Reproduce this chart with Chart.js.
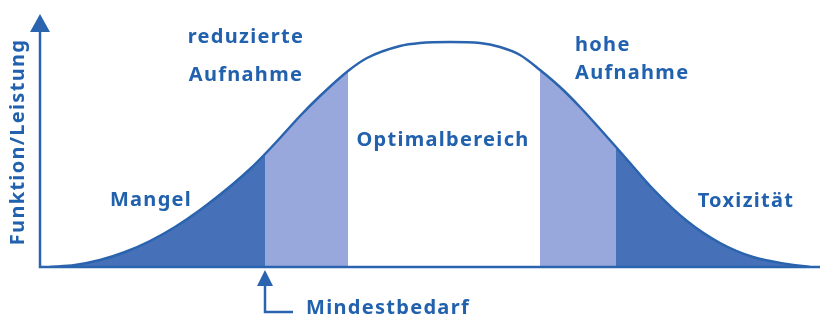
<!DOCTYPE html>
<html>
<head>
<meta charset="utf-8">
<script src="https://cdn.jsdelivr.net/npm/chart.js@4.4.0/dist/chart.umd.min.js"></script>
<style>
  html, body { margin: 0; padding: 0; background: #fff; }
  #wrap { width: 822px; height: 320px; position: relative; }
</style>
</head>
<body>
<div id="wrap"><canvas id="chart"></canvas></div>
<script>
// Kurve: Aufnahme -> Funktion/Leistung
const intake = [10, 35, 60, 85, 110, 135, 160, 193, 210, 225, 240, 260, 280, 308, 327, 360, 380, 410,
                440, 460, 480, 500, 520, 540, 560, 576, 590, 613, 647, 680, 713, 747, 770];
const performance = [0, 2, 7, 15, 26, 40, 57, 83, 98, 113, 129, 151, 171, 196, 209, 221, 224, 225,
                     224, 220, 212, 197, 180, 160, 138, 120, 104, 78, 46, 24, 10, 3, 0];

// Bereichsgrenzen auf der Aufnahme-Achse
const mindestbedarf = 225;
const optimalStart = 308;
const optimalEnd = 500;
const toxStart = 576;

const axisTitle = 'Funktion/Leistung';
const zoneLabels = [
    { text: 'reduzierte', x: 206, y: 230, align: 'center' },
    { text: 'Aufnahme', x: 206, y: 192, align: 'center' },
    { text: 'Optimalbereich', x: 403, y: 127, align: 'center' },
    { text: 'hohe', x: 535, y: 222, align: 'left' },
    { text: 'Aufnahme', x: 535, y: 194, align: 'left' },
    { text: 'Mangel', x: 111, y: 67, align: 'center' },
    { text: 'Toxizität', x: 706, y: 66, align: 'center' }
];
const pointerLabel = 'Mindestbedarf';

const colors = {
    line: '#2a63ae',
    text: '#2161ad',
    dark: '#4670b7',
    light: '#98a8dc'
};

const curve = intake.map((x, i) => ({ x: x, y: performance[i] }));
const slice = (a, b) => curve.filter(p => p.x >= a && p.x <= b);

function fillSet(data, color) {
    return {
        data: data,
        borderWidth: 0,
        pointRadius: 0,
        backgroundColor: color,
        fill: 'origin',
        cubicInterpolationMode: 'monotone'
    };
}

const FONT = 'bold 20px "Noto Sans", sans-serif';

const decorations = {
    id: 'decorations',
    afterDatasetsDraw(chart) {
        const { ctx, chartArea, scales } = chart;
        const xs = scales.x, ys = scales.y;
        ctx.save();

        // Achsen
        ctx.strokeStyle = colors.line;
        ctx.fillStyle = colors.line;
        ctx.lineWidth = 2.5;
        ctx.beginPath();
        ctx.moveTo(chartArea.left, chartArea.top + 16);
        ctx.lineTo(chartArea.left, chartArea.bottom);
        ctx.lineTo(chartArea.right, chartArea.bottom);
        ctx.stroke();
        // Pfeilspitze y-Achse
        ctx.beginPath();
        ctx.moveTo(chartArea.left, chartArea.top);
        ctx.lineTo(chartArea.left + 10, chartArea.top + 18);
        ctx.lineTo(chartArea.left - 10, chartArea.top + 18);
        ctx.closePath();
        ctx.fill();

        // Mindestbedarf-Pfeil
        const px = xs.getPixelForValue(mindestbedarf);
        const tip = chartArea.bottom + 3;
        ctx.beginPath();
        ctx.moveTo(px, tip);
        ctx.lineTo(px + 8, tip + 16);
        ctx.lineTo(px - 8, tip + 16);
        ctx.closePath();
        ctx.fill();
        ctx.lineWidth = 2.5;
        ctx.beginPath();
        ctx.moveTo(px, tip + 14);
        ctx.lineTo(px, tip + 42);
        ctx.lineTo(px + 28, tip + 42);
        ctx.stroke();

        // Texte
        ctx.font = FONT;
        ctx.letterSpacing = '1.3px';
        ctx.fillStyle = colors.text;
        ctx.textBaseline = 'middle';
        zoneLabels.forEach(l => {
            ctx.textAlign = l.align;
            ctx.fillText(l.text, xs.getPixelForValue(l.x), ys.getPixelForValue(l.y));
        });
        ctx.textAlign = 'left';
        ctx.fillText(pointerLabel, px + 41, tip + 38);

        ctx.translate(18, ys.getPixelForValue(125));
        ctx.rotate(-Math.PI / 2);
        ctx.textAlign = 'center';
        ctx.fillText(axisTitle, 0, 0);
        ctx.restore();
    }
};

new Chart(document.getElementById('chart'), {
    type: 'line',
    data: {
        datasets: [
            {
                data: curve,
                borderColor: colors.line,
                borderWidth: 2.5,
                pointRadius: 0,
                fill: false,
                cubicInterpolationMode: 'monotone'
            },
            fillSet(slice(0, mindestbedarf), colors.dark),
            fillSet(slice(mindestbedarf, optimalStart), colors.light),
            fillSet(slice(optimalEnd, toxStart), colors.light),
            fillSet(slice(toxStart, 780), colors.dark)
        ]
    },
    options: {
        responsive: true,
        maintainAspectRatio: false,
        animation: false,
        layout: { padding: { left: 40, right: 2, top: 14, bottom: 53 } },
        plugins: { legend: { display: false }, tooltip: { enabled: false } },
        scales: {
            x: { type: 'linear', min: 0, max: 780, display: false },
            y: { min: 0, max: 253, display: false }
        }
    },
    plugins: [decorations]
});
</script>
</body>
</html>
